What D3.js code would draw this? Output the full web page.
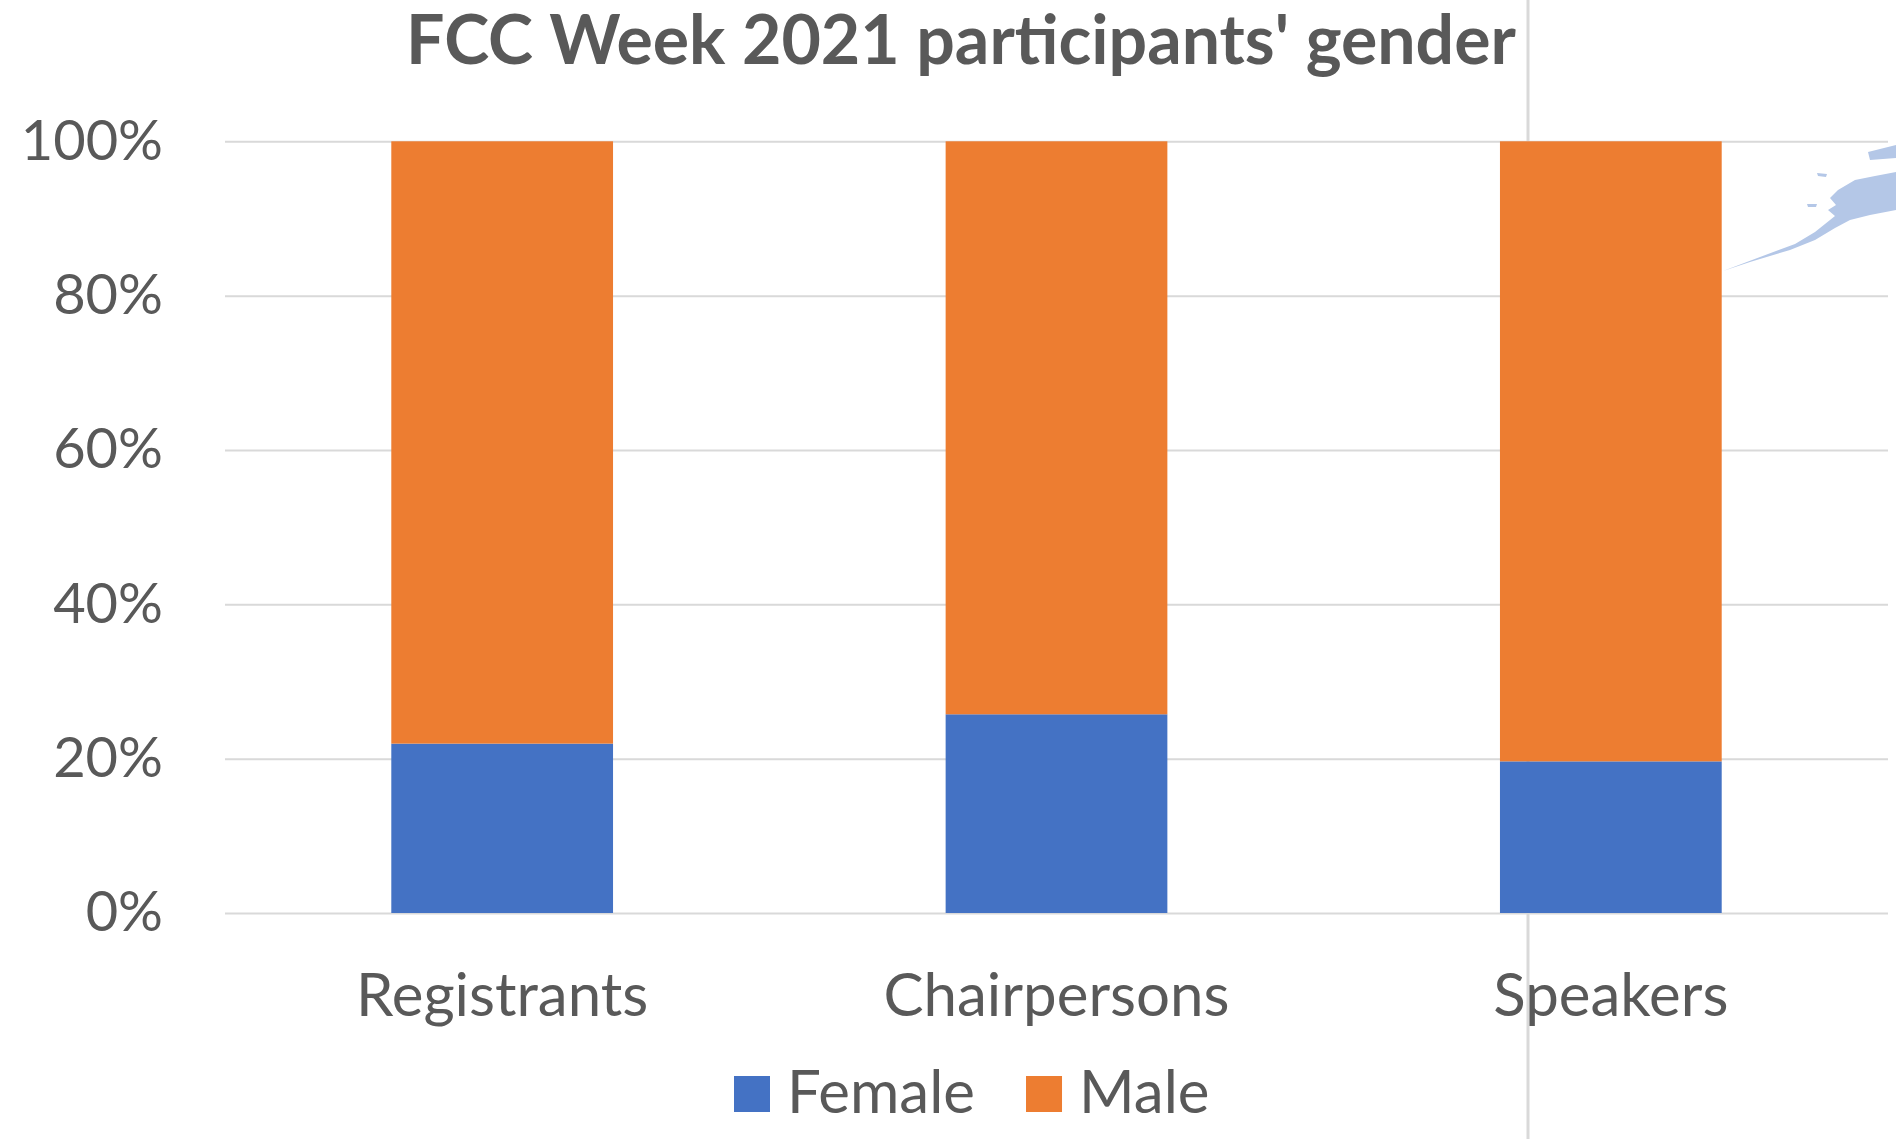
<!DOCTYPE html>
<html>
<head>
<meta charset="utf-8">
<script src="https://cdn.jsdelivr.net/npm/d3@7"></script>
<style>
  body { margin: 0; background: #fff; }
  text { font-family: Lato, "Open Sans", sans-serif; fill: #595959; }
</style>
</head>
<body>
<div id="chart"></div>
<script>
var categories = ['Registrants', 'Chairpersons', 'Speakers']
var seriesNames = ['Female', 'Male']
var female = [0.2195, 0.2575, 0.1965]
var male = [0.7805, 0.7425, 0.8035]
var yTicks = [0, 0.2, 0.4, 0.6, 0.8, 1]
var colors = ['#4472C4', '#ED7D31']

var _width = 1896
var _height = 1139

var _svg = d3.select('#chart')
    .append('svg')
    .attr('width', _width)
    .attr('height', _height)

// stacked rows, one per category
var rows = categories.map((c, i) => ({ cat: c, Female: female[i], Male: male[i] }))
var stacked = d3.stack().keys(seriesNames)(rows)

var x = d3.scaleBand()
    .domain(categories)
    .range([225, 1888])
    .paddingInner(0.6)
    .paddingOuter(0.3)

var y = d3.scaleLinear()
    .domain([0, 1])
    .range([913, 141.3])

// stray vertical line from the source picture, sits under the bars
_svg.append('line')
    .attr('x1', 1528).attr('x2', 1528)
    .attr('y1', 0).attr('y2', _height)
    .attr('stroke', '#d9d9d9')
    .attr('stroke-width', 3)

// gridlines + y labels
var yAxis = _svg.append('g')
    .attr('transform', 'translate(225,0)')
    .call(d3.axisLeft(y)
        .tickValues(yTicks)
        .tickFormat(d3.format('.0%'))
        .tickSize(-(1888 - 225))
        .tickPadding(62))

yAxis.select('.domain').remove()
yAxis.selectAll('.tick line').attr('stroke', '#d9d9d9').attr('stroke-width', 2)
yAxis.selectAll('.tick text')
    .attr('font-size', 56)
    .attr('font-family', 'Lato, sans-serif')
    .attr('fill', '#595959')

// bars
var layers = _svg.append('g').attr('class', 'bars')
    .selectAll('g')
    .data(stacked)
    .join('g')
    .attr('fill', (d, i) => colors[i])

layers.selectAll('rect')
    .data(d => d)
    .join('rect')
    .attr('x', d => x(d.data.cat))
    .attr('width', x.bandwidth())
    .attr('y', d => y(d[1]))
    .attr('height', d => y(d[0]) - y(d[1]))

// category labels
var xAxis = _svg.append('g')
    .attr('transform', 'translate(0,913)')
    .call(d3.axisBottom(x).tickSize(0).tickPadding(60))

xAxis.select('.domain').remove()
xAxis.selectAll('.tick text')
    .attr('font-size', 60)
    .attr('font-family', 'Lato, sans-serif')
    .attr('fill', '#595959')

// title
_svg.append('text')
    .attr('x', 961)
    .attr('y', 64)
    .attr('text-anchor', 'middle')
    .attr('font-size', 68)
    .attr('font-weight', 'bold')
    .text("FCC Week 2021 participants' gender")

// legend
var legend = _svg.append('g').attr('class', 'legend')
var cursor = 734
seriesNames.forEach(function(name, i) {
    var item = legend.append('g').attr('transform', 'translate(' + cursor + ',0)')
    item.append('rect')
        .attr('x', 0).attr('y', 1076)
        .attr('width', 36).attr('height', 36)
        .attr('fill', colors[i])
    var t = item.append('text')
        .attr('x', 53)
        .attr('y', 1113)
        .attr('font-size', 60)
        .text(name)
    cursor += 53 + t.node().getComputedTextLength() + 51
})

// light blue splash at the right edge
_svg.append('path')
    .attr('fill', '#B4C7E7')
    .attr('d', 'M1723,271 L1750,262 L1790,250 L1815,240 L1835,228 L1850,220 L1870,215 L1896,210 ' +
        'L1896,172 L1875,176 L1855,180 L1838,190 L1830,198 L1836,205 L1828,210 L1835,216 ' +
        'L1815,232 L1795,244 L1760,257 Z ' +
        'M1868,152 L1896,145 L1896,158 L1870,160 Z ' +
        'M1817,173 L1827,174 L1826,177 L1818,176 Z ' +
        'M1807,204 L1817,204 L1816,207 L1808,207 Z')
</script>
</body>
</html>
